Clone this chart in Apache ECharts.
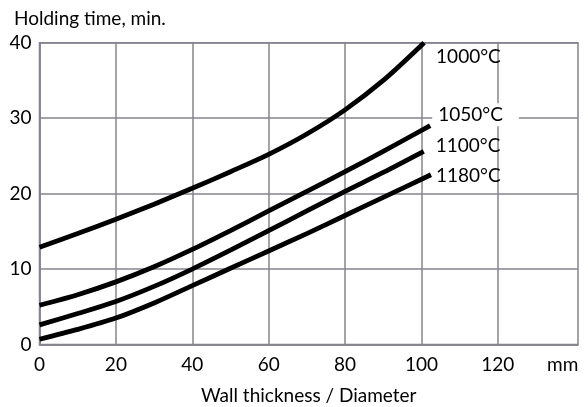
<!DOCTYPE html>
<html>
<head>
<meta charset="utf-8">
<script src="https://cdn.jsdelivr.net/npm/echarts@6/dist/echarts.min.js"></script>
<style>html,body{margin:0;padding:0;background:#fff}#c{width:588px;height:407px}</style>
</head>
<body>
<div id="c"></div>
<script>
var xTicks = [0, 20, 40, 60, 80, 100, 120];
var yTicks = [0, 10, 20, 30, 40];
var seriesNames = ['1000°C', '1050°C', '1100°C', '1180°C'];
var s1000 = [[0,12.9],[10,14.7],[20,16.6],[30,18.6],[40,20.7],[50,22.9],[60,25.2],[70,27.9],[80,31.1],[90,35.0],[100.7,40.0]];
var s1050 = [[0,5.2],[10,6.6],[20,8.3],[30,10.3],[40,12.6],[50,15.1],[60,17.7],[70,20.3],[80,22.9],[90,25.6],[102.3,29.0]];
var s1100 = [[0,2.6],[10,4.1],[20,5.7],[30,7.7],[40,10.0],[50,12.5],[60,15.1],[70,17.7],[80,20.3],[90,22.8],[100.6,25.6]];
var s1180 = [[0,0.7],[10,2.0],[20,3.5],[30,5.5],[40,7.8],[50,10.1],[60,12.4],[70,14.7],[80,17.1],[90,19.5],[102.5,22.5]];
var allData = [s1000, s1050, s1100, s1180];
var labelOffsets = [[4, 14], [-6, -11], [4, -5], [-3, 1]];

var FONT = 'Lato';
var GRID = '#84848f';
var chart = echarts.init(document.getElementById('c'), null, {renderer: 'canvas'});

var series = allData.map(function (d, i) {
  return {
    name: seriesNames[i],
    type: 'line',
    data: d,
    smooth: 0.3,
    showSymbol: false,
    symbol: 'none',
    lineStyle: {color: '#000', width: 4.8},
    z: 3,
    endLabel: {
      show: true,
      formatter: seriesNames[i],
      color: '#000',
      fontFamily: FONT,
      fontSize: 19,
      offset: labelOffsets[i],
      backgroundColor: i === 1 ? '#fff' : 'transparent',
      padding: i === 1 ? [2, 16, 2, 6] : 0
    },
    emphasis: {disabled: true}
  };
});

chart.setOption({
  animation: false,
  title: {
    text: 'Holding time, min.',
    left: 9, top: 4,
    textStyle: {fontFamily: FONT, fontSize: 19, fontWeight: 'normal', color: '#000'}
  },
  grid: {
    left: 39.5, right: 10, top: 42.7, bottom: 62.5,
    containLabel: false, outerBoundsMode: 'none',
    show: true, borderColor: GRID, borderWidth: 1.5, backgroundColor: 'transparent'
  },
  xAxis: {
    type: 'value', min: 0, max: 141, interval: 20,
    name: 'Wall thickness / Diameter',
    nameLocation: 'middle', nameGap: 42,
    nameTextStyle: {fontFamily: FONT, fontSize: 19, color: '#000'},
    axisLine: {show: true, lineStyle: {color: GRID, width: 1.5}},
    axisTick: {show: false, customValues: xTicks},
    axisLabel: {customValues: xTicks, fontFamily: FONT, fontSize: 19, color: '#000', margin: 11},
    splitLine: {show: true, lineStyle: {color: GRID, width: 1.5}}
  },
  yAxis: {
    type: 'value', min: 0, max: 40, interval: 10,
    axisLine: {show: true, lineStyle: {color: GRID, width: 1.5}},
    axisTick: {show: false},
    axisLabel: {fontFamily: FONT, fontSize: 19, color: '#000', margin: 8},
    splitLine: {show: true, lineStyle: {color: GRID, width: 1.5}}
  },
  graphic: [{
    type: 'text', left: 547, top: 355,
    style: {text: 'mm', fontFamily: FONT, fontSize: 19, fill: '#000'}
  }],
  series: series
});
</script>
</body>
</html>
